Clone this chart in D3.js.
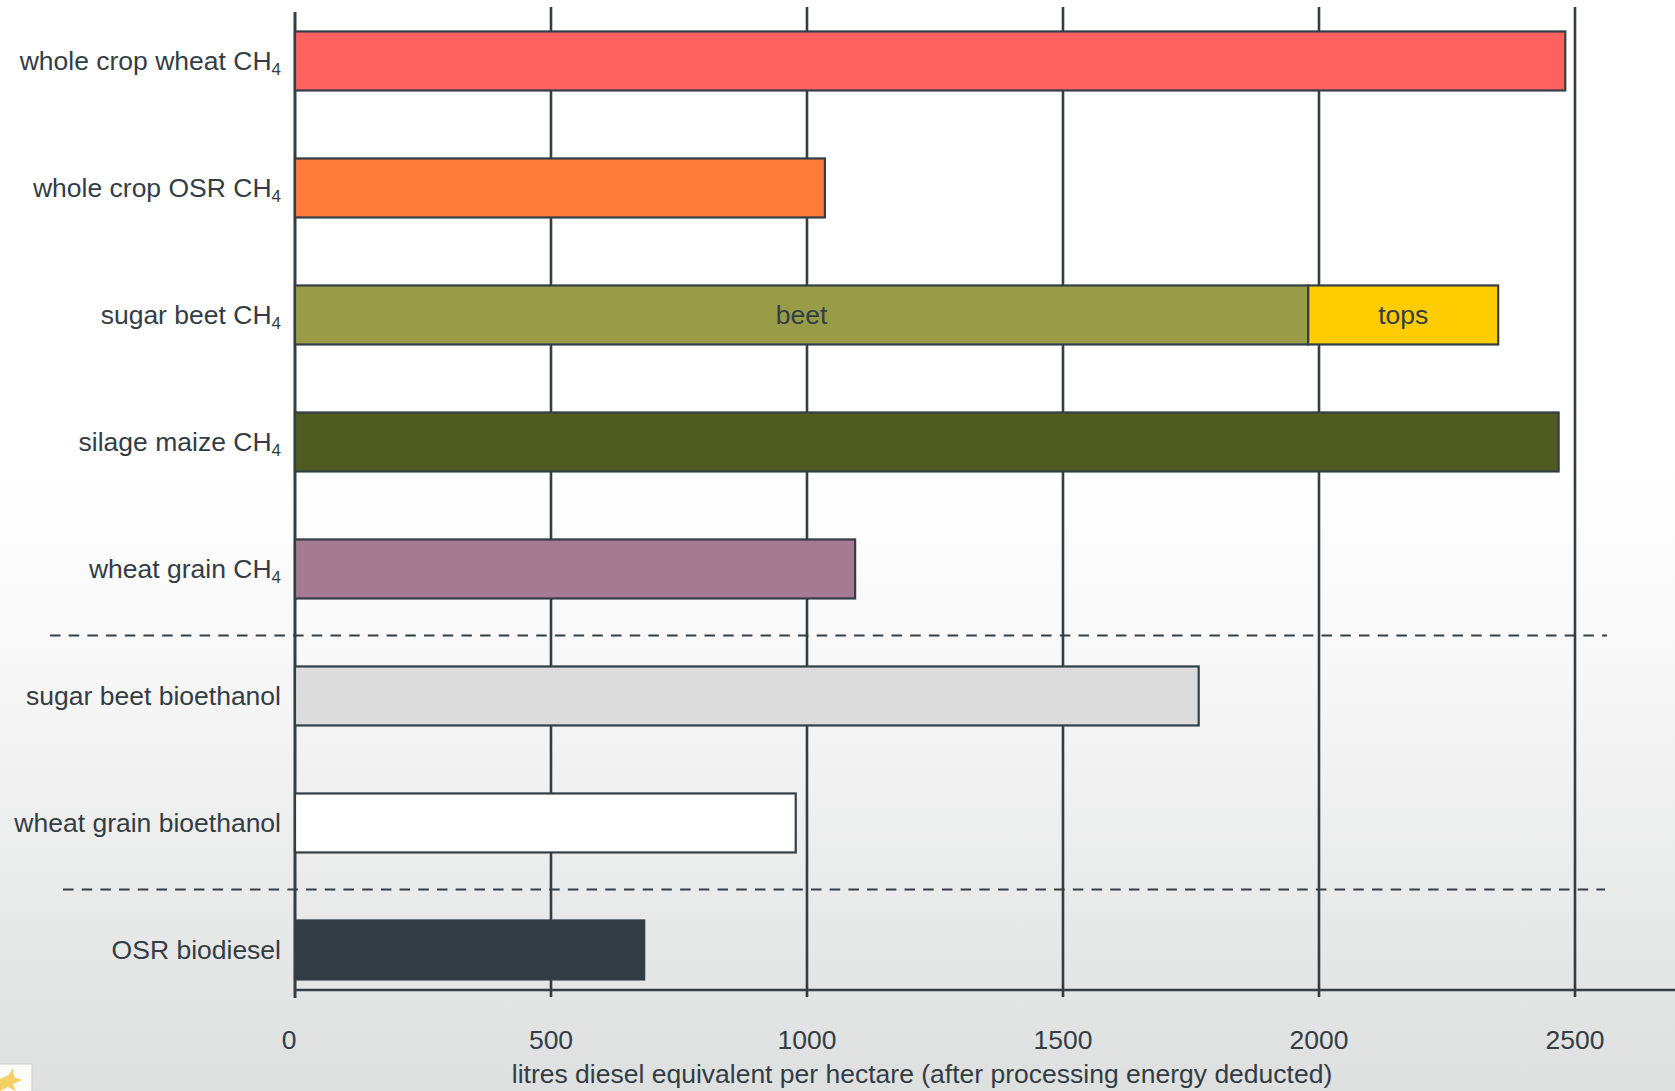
<!DOCTYPE html>
<html>
<head>
<meta charset="utf-8">
<script src="https://cdn.jsdelivr.net/npm/d3@7"></script>
<style>
  html, body { margin: 0; padding: 0; overflow: hidden; }
  svg { display: block; }
  text { font-family: "Liberation Sans", Arial, Helvetica, sans-serif; fill: #333d44; }
</style>
</head>
<body>
<svg id="chart" width="1675" height="1091"></svg>
<script>
// ---- data ----
const categories = [
  "whole crop wheat CH4",
  "whole crop OSR CH4",
  "sugar beet CH4",
  "silage maize CH4",
  "wheat grain CH4",
  "sugar beet bioethanol",
  "wheat grain bioethanol",
  "OSR biodiesel"
];
const mainValues = [2481, 1035, 1979, 2468, 1094, 1765, 978, 682];
const topsValues = [0, 0, 371, 0, 0, 0, 0, 0];
const barColors = ["#ff6161", "#ff7c3b", "#999c47", "#505b22", "#a67a91", "#dcdcdc", "#ffffff", "#313c43"];
const segmentLabels = ["beet", "tops"];
const tickValues = [0, 500, 1000, 1500, 2000, 2500];
const xTitle = "litres diesel equivalent per hectare (after processing energy deducted)";
const separatorsAfter = ["wheat grain CH4", "wheat grain bioethanol"];

// ---- layout ----
const W = 1675, H = 1091;
const ink = "#333e45";
const fs = 26.5;
const svg = d3.select("#chart");

// background gradient
const defs = svg.append("defs");
const grad = defs.append("linearGradient").attr("id", "bg").attr("x1", 0).attr("y1", 0).attr("x2", 0).attr("y2", 1);
grad.append("stop").attr("offset", "0").attr("stop-color", "#ffffff");
grad.append("stop").attr("offset", "0.42").attr("stop-color", "#ffffff");
grad.append("stop").attr("offset", "0.6").attr("stop-color", "#f8f8f8");
grad.append("stop").attr("offset", "1").attr("stop-color", "#dedfdf");
svg.append("rect").attr("width", W).attr("height", H).attr("fill", "url(#bg)");

const x = d3.scaleLinear().domain([0, 2500]).range([295, 1575]);
const step = 127, pi = 1 - 59 / 127, po = 0.169;
const r0 = 10;
const y = d3.scaleBand().domain(categories)
  .range([r0, r0 + step * (categories.length - pi + 2 * po)])
  .paddingInner(pi).paddingOuter(po);

const axisY = 990;

// gridlines
svg.append("g").selectAll("line").data(tickValues.filter(d => d > 0)).join("line")
  .attr("x1", d => x(d)).attr("x2", d => x(d))
  .attr("y1", 7).attr("y2", axisY + 7)
  .attr("stroke", ink).attr("stroke-width", 2.6);

// zero axis line
svg.append("line").attr("x1", x(0)).attr("x2", x(0)).attr("y1", 12).attr("y2", axisY + 8)
  .attr("stroke", ink).attr("stroke-width", 3);

// horizontal axis line
svg.append("line").attr("x1", x(0)).attr("x2", W).attr("y1", axisY).attr("y2", axisY)
  .attr("stroke", ink).attr("stroke-width", 2.6);

// dashed separators (between groups)
const sepY = c => {
  const i = categories.indexOf(c);
  return (y(categories[i]) + y.bandwidth() + y(categories[i + 1])) / 2 + 3;
};
const sepExtents = [[50, 1607], [63, 1605]];
svg.append("g").selectAll("line").data(separatorsAfter).join("line")
  .attr("x1", (d, i) => sepExtents[i][0]).attr("x2", (d, i) => sepExtents[i][1])
  .attr("y1", d => sepY(d)).attr("y2", d => sepY(d))
  .attr("stroke", ink).attr("stroke-width", 2).attr("stroke-dasharray", "10.5 8.2");

// bars
const bars = svg.append("g");
bars.selectAll("rect.main").data(categories).join("rect")
  .attr("class", "main")
  .attr("x", x(0))
  .attr("y", d => y(d))
  .attr("width", (d, i) => x(mainValues[i]) - x(0))
  .attr("height", y.bandwidth())
  .attr("fill", (d, i) => barColors[i])
  .attr("stroke", ink).attr("stroke-width", 2.2);

const stacked = categories.map((c, i) => ({c, i})).filter(o => topsValues[o.i] > 0);
bars.selectAll("rect.tops").data(stacked).join("rect")
  .attr("class", "tops")
  .attr("x", o => x(mainValues[o.i]))
  .attr("y", o => y(o.c))
  .attr("width", o => x(mainValues[o.i] + topsValues[o.i]) - x(mainValues[o.i]))
  .attr("height", y.bandwidth())
  .attr("fill", "#ffcc00")
  .attr("stroke", ink).attr("stroke-width", 2.2);

// segment labels
stacked.forEach(o => {
  const cy = y(o.c) + y.bandwidth() / 2;
  svg.append("text").attr("x", (x(0) + x(mainValues[o.i])) / 2).attr("y", cy).attr("dy", "0.35em")
    .attr("text-anchor", "middle").attr("font-size", fs).text(segmentLabels[0]);
  svg.append("text").attr("x", (x(mainValues[o.i]) + x(mainValues[o.i] + topsValues[o.i])) / 2).attr("y", cy).attr("dy", "0.35em")
    .attr("text-anchor", "middle").attr("font-size", fs).text(segmentLabels[1]);
});

// category labels with subscript
const lab = svg.append("g").selectAll("text").data(categories).join("text")
  .attr("x", 281)
  .attr("y", d => y(d) + y.bandwidth() / 2)
  .attr("dy", "0.34em")
  .attr("text-anchor", "end")
  .attr("font-size", fs);
lab.each(function(d) {
  const t = d3.select(this);
  if (d.endsWith("CH4")) {
    t.append("tspan").text(d.slice(0, -1));
    t.append("tspan").attr("font-size", 17).attr("dy", 5).text("4");
  } else {
    t.text(d);
  }
});

// tick labels
svg.append("g").selectAll("text").data(tickValues).join("text")
  .attr("x", d => x(d) + (d === 0 ? -6 : 0))
  .attr("y", 1049)
  .attr("text-anchor", "middle")
  .attr("font-size", fs)
  .text(d => d);

// axis title
svg.append("text").attr("x", 922).attr("y", 1083).attr("text-anchor", "middle")
  .attr("font-size", fs).text(xTitle);

// small corner icon
const icon = svg.append("g");
icon.append("rect").attr("x", -1).attr("y", 1064).attr("width", 33).attr("height", 30)
  .attr("fill", "#fbfbf8").attr("stroke", "#cfcfcf").attr("stroke-width", 1);
icon.append("path").attr("d", "M0,1079 L9,1075 L13,1068 L14,1077 L22,1080 L13,1084 L16,1091 L8,1087 L0,1091 Z")
  .attr("fill", "#f2c94c").attr("opacity", 0.85);
</script>
</body>
</html>
